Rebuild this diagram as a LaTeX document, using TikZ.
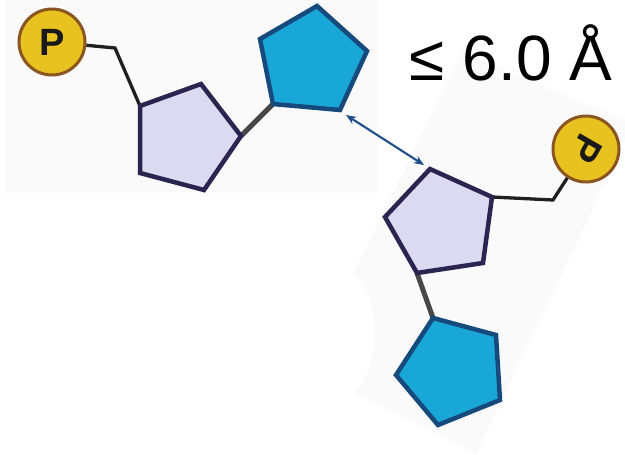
\documentclass[tikz,border=0pt]{standalone}
\usepackage{fontspec}
\setmainfont{Liberation Sans}
\usetikzlibrary{arrows.meta}
\definecolor{panel}{HTML}{F9FAF9}
\definecolor{lav}{HTML}{DCDAF1}
\definecolor{lavborder}{HTML}{2A2450}
\definecolor{bluefill}{HTML}{19A7D7}
\definecolor{blueborder}{HTML}{164A7C}
\definecolor{pfill}{HTML}{E8C21F}
\definecolor{pborder}{HTML}{8A5520}
\definecolor{arrowblue}{HTML}{1F4E8A}
\tikzset{
  sugar/.style={draw=lavborder, fill=lav, line width=4.5pt, line join=miter},
  base/.style={draw=blueborder, fill=bluefill, line width=4.5pt, line join=miter},
  phos/.style={circle, draw=pborder, fill=pfill, line width=3pt, minimum size=66pt, inner sep=0pt},
  plabel/.style={font=\fontsize{38}{38}\selectfont\bfseries, text=black!90, inner sep=0pt},
  bond/.style={draw=black!88, line width=3.3pt, line join=miter},
  glyco/.style={draw=black!72, line width=5pt},
  dist/.style={draw=arrowblue, line width=2.1pt, {Stealth[length=10pt,width=8pt]}-{Stealth[length=10pt,width=8pt]}}
}
\begin{document}
\begin{tikzpicture}[x=1pt,y=-1pt]
\useasboundingbox (0,0) rectangle (625,455);
% faint background panels
\fill[panel] (5,0) rectangle (377,193);
\fill[panel] (462,53) -- (634,123) -- (476,454) -- (353,393) .. controls (382,370) and (382,296) .. (353,273) -- cycle;

% vertices
\coordinate (A) at (140,106); \coordinate (B) at (201,84); \coordinate (C) at (241,136);
\coordinate (D) at (204,190); \coordinate (E) at (140,173);
\coordinate (F) at (260,39); \coordinate (G) at (317,6); \coordinate (H) at (367,51);
\coordinate (I) at (340,110); \coordinate (J) at (273,104);
\coordinate (K) at (430,169); \coordinate (L) at (492,197); \coordinate (M) at (483,263);
\coordinate (N) at (417,273); \coordinate (O) at (385,217);
\coordinate (Q) at (433,318); \coordinate (R) at (496,335); \coordinate (S) at (500,400);
\coordinate (T) at (438,425); \coordinate (U) at (396,375);
\coordinate (bend1) at (115,48);
\coordinate (bend2) at (553,200);

% phosphates
\node[phos] (p1) at (52,42) {};
\node[plabel] (p1label) at (p1.center) {P};
\node[phos] (p2) at (586,149) {};
\node[plabel, rotate=-120] (p2label) at (p2.center) {P};

% bonds
\draw[bond] (p1) -- (bend1) -- (A);
\draw[bond] (p2) -- (bend2) -- (L);
\draw[glyco] (C) -- (J);
\draw[glyco] (N) -- (Q);

% sugars and bases
\draw[sugar] (A) -- (B) -- (C) -- (D) -- (E) -- cycle;
\draw[base] (F) -- (G) -- (H) -- (I) -- (J) -- cycle;
\draw[sugar] (K) -- (L) -- (M) -- (N) -- (O) -- cycle;
\draw[base] (Q) -- (R) -- (S) -- (T) -- (U) -- cycle;

% distance arrow
\coordinate (a1) at (346,115);
\coordinate (a2) at (424,165);
\draw[dist] (a1) -- (a2);

\node[anchor=base, font=\fontsize{64}{64}\selectfont, inner sep=0pt] (label) at (511,80) {≤ 6.0 Å};
\end{tikzpicture}
\end{document}
